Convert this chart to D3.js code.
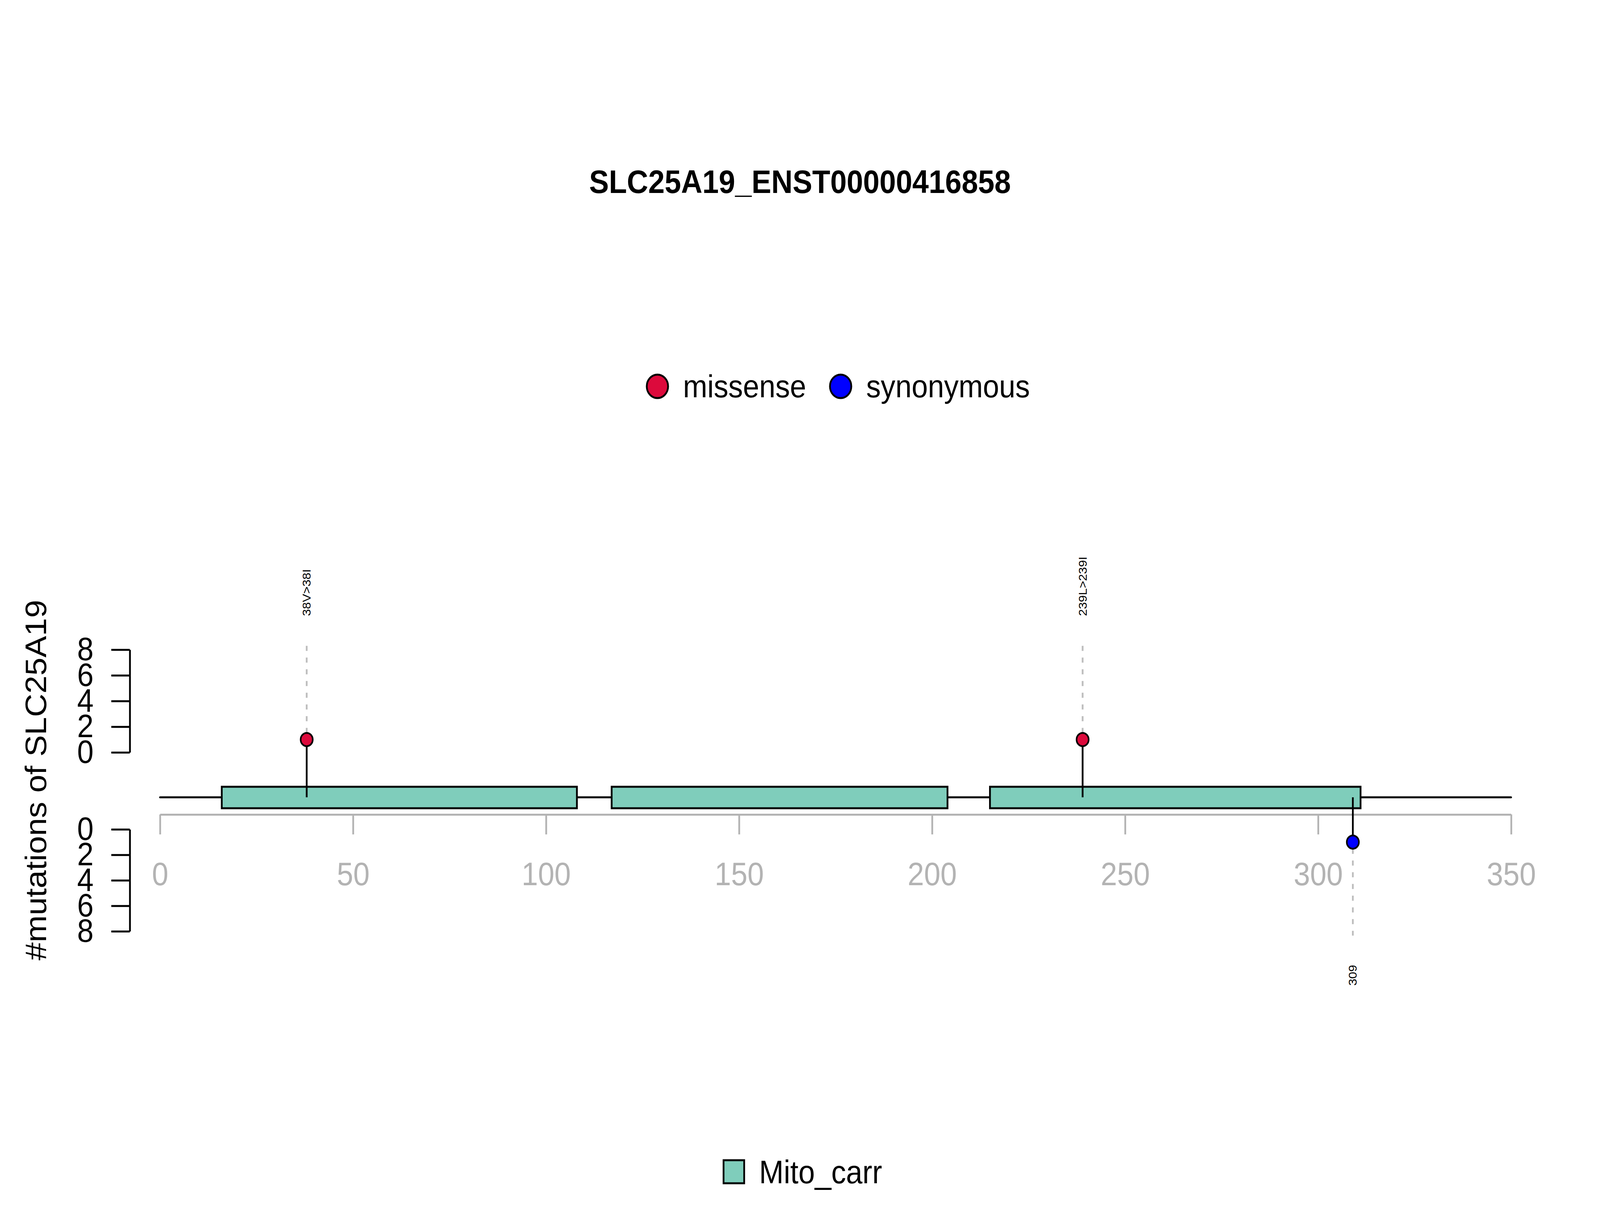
<!DOCTYPE html>
<html>
<head>
<meta charset="utf-8">
<script src="https://cdn.jsdelivr.net/npm/d3@7"></script>
<style>
  html, body { margin: 0; padding: 0; background: #fff; overflow: hidden; }
  svg { display: block; }
  text { font-family: "Liberation Sans", Arial, Helvetica, sans-serif; }
</style>
</head>
<body>
<div id="chart"></div>
<script>
const title = "SLC25A19_ENST00000416858";
const yTitle = "#mutations of SLC25A19";
const proteinLength = 350;
const xTicks = [0, 50, 100, 150, 200, 250, 300, 350];
const yTicks = [0, 2, 4, 6, 8];

// pfam domains
const domainNames = ["Mito_carr", "Mito_carr", "Mito_carr"];
const domainStart = [16, 117, 215];
const domainEnd = [108, 204, 311];

// mutations
const mutPos = [38, 239, 309];
const mutLabel = ["38V>38I", "239L>239I", "309"];
const mutType = ["missense", "missense", "synonymous"];
const mutCount = [1, 1, 1];

const mutTypes = ["missense", "synonymous"];
const mutColors = ["#dc0a3c", "#0000ff"];
const domainColor = "#7fcdbb";

// drawn in a 4500x3100 frame, stretched to whatever the window really is
const W = 4500, H = 3100;
const svg = d3.select("#chart").append("svg")
    .attr("width", window.innerWidth || W)
    .attr("height", window.innerHeight || H)
    .attr("viewBox", `0 0 ${W} ${H}`)
    .attr("preserveAspectRatio", "none")
    .style("background", "#fff");

const x = d3.scaleLinear().domain([0, proteinLength]).range([450, 4250]);
const yUp = d3.scaleLinear().domain([0, 8]).range([1926, 1663]);
const yDown = d3.scaleLinear().domain([0, 8]).range([2123, 2384]);
const color = d3.scaleOrdinal().domain(mutTypes).range(mutColors);

const backboneY = 2041;
const domainTop = 2014, domainH = 55;
const xAxisY = 2085;

// title
svg.append("text")
    .attr("x", W / 2).attr("y", 494)
    .attr("text-anchor", "middle")
    .attr("font-size", 83).attr("font-weight", "bold")
    .text(title);

// mutation type legend
let lx = 1849;
mutTypes.forEach(t => {
    svg.append("circle")
        .attr("cx", lx).attr("cy", 989).attr("r", 30)
        .attr("fill", color(t)).attr("stroke", "#000").attr("stroke-width", 5);
    const txt = svg.append("text")
        .attr("x", lx + 72).attr("y", 1017)
        .attr("font-size", 82)
        .text(t);
    lx = lx + 72 + txt.node().getComputedTextLength() + 97;
});

// y axes (up: missense, down: synonymous)
const axUp = svg.append("g")
    .attr("transform", `translate(365,0)`)
    .call(d3.axisLeft(yUp).tickValues(yTicks).tickSize(52).tickSizeOuter(0).tickPadding(50));
const axDown = svg.append("g")
    .attr("transform", `translate(365,0)`)
    .call(d3.axisLeft(yDown).tickValues(yTicks).tickSize(52).tickSizeOuter(0).tickPadding(50));
[axUp, axDown].forEach(g => {
    g.selectAll("path, line").attr("stroke", "#000").attr("stroke-width", 5);
    g.selectAll("text").attr("font-size", 83).attr("fill", "#000")
        .attr("font-family", '"Liberation Sans", Arial, sans-serif');
});

svg.append("text")
    .attr("transform", `translate(130,1997) rotate(-90)`)
    .attr("text-anchor", "middle")
    .attr("font-size", 83)
    .text(yTitle);

// x axis
const axX = svg.append("g")
    .attr("transform", `translate(0,${xAxisY})`)
    .call(d3.axisBottom(x).tickValues(xTicks).tickSize(51).tickSizeOuter(0).tickPadding(71));
axX.selectAll("path, line").attr("stroke", "#b3b3b3").attr("stroke-width", 5);
axX.selectAll("text").attr("font-size", 83).attr("fill", "#b3b3b3")
    .attr("font-family", '"Liberation Sans", Arial, sans-serif');

// backbone
svg.append("line")
    .attr("x1", x(0)).attr("x2", x(proteinLength))
    .attr("y1", backboneY).attr("y2", backboneY)
    .attr("stroke", "#000").attr("stroke-width", 5).attr("stroke-linecap", "round");

// domains
svg.selectAll("rect.domain")
    .data(domainNames.map((n, i) => ({name: n, start: domainStart[i], end: domainEnd[i]})))
    .join("rect")
    .attr("class", "domain")
    .attr("x", d => x(d.start)).attr("y", domainTop)
    .attr("width", d => x(d.end) - x(d.start)).attr("height", domainH)
    .attr("fill", domainColor).attr("stroke", "#000").attr("stroke-width", 5);

// lollipops
const muts = mutPos.map((p, i) => ({pos: p, label: mutLabel[i], type: mutType[i], count: mutCount[i]}));
const r = 17;
muts.forEach(d => {
    const up = d.type !== "synonymous";
    const ys = up ? yUp : yDown;
    const cy = ys(d.count);
    const dir = up ? -1 : 1;
    const dashEnd = ys(8) + dir * 11;
    svg.append("line")
        .attr("x1", x(d.pos)).attr("x2", x(d.pos))
        .attr("y1", cy + dir * r).attr("y2", dashEnd)
        .attr("stroke", "#bebebe").attr("stroke-width", 5)
        .attr("stroke-dasharray", "13,17");
    svg.append("line")
        .attr("x1", x(d.pos)).attr("x2", x(d.pos))
        .attr("y1", backboneY).attr("y2", cy)
        .attr("stroke", "#000").attr("stroke-width", 5);
    svg.append("circle")
        .attr("cx", x(d.pos)).attr("cy", cy).attr("r", r)
        .attr("fill", color(d.type)).attr("stroke", "#000").attr("stroke-width", 4.5);
    svg.append("text")
        .attr("transform", `translate(${x(d.pos)},${dashEnd + dir * 75}) rotate(-90)`)
        .attr("text-anchor", up ? "start" : "end")
        .attr("dy", "0.35em")
        .attr("font-size", 32)
        .text(d.label);
});

// domain legend
svg.append("rect")
    .attr("x", 2035).attr("y", 2970).attr("width", 58).attr("height", 59)
    .attr("fill", domainColor).attr("stroke", "#000").attr("stroke-width", 5);
svg.append("text")
    .attr("x", 2135).attr("y", 3029)
    .attr("font-size", 83)
    .text(domainNames[0]);
</script>
</body>
</html>
